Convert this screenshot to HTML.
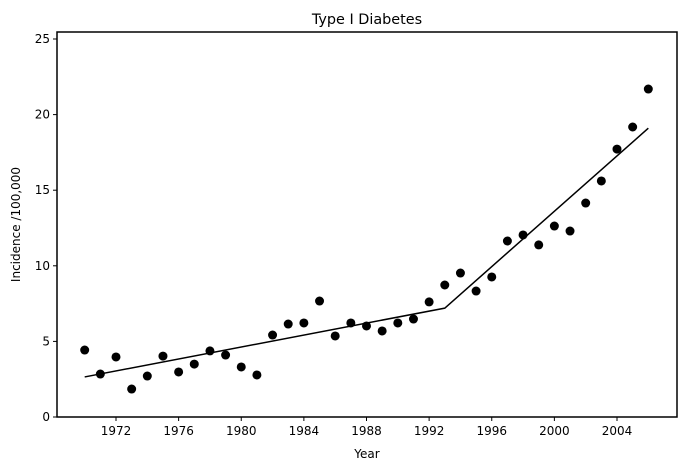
<!DOCTYPE html>
<html><head><meta charset="utf-8"><style>body{margin:0;background:#fff}svg{display:block;font-family:"DejaVu Sans","Liberation Sans",sans-serif}</style></head>
<body>
<svg id="chart" width="686" height="470"></svg>
<script>
const years=[1970,1971,1972,1973,1974,1975,1976,1977,1978,1979,1980,1981,1982,1983,1984,1985,1986,1987,1988,1989,1990,1991,1992,1993,1994,1995,1996,1997,1998,1999,2000,2001,2002,2003,2004,2005,2006];
const incidence=[4.43,2.84,3.97,1.85,2.71,4.03,2.98,3.5,4.37,4.1,3.31,2.78,5.42,6.15,6.22,7.67,5.36,6.22,6.02,5.69,6.22,6.48,7.61,8.73,9.52,8.33,9.26,11.64,12.04,11.38,12.63,12.3,14.15,15.61,17.72,19.18,21.69];
const fitYears=[1970,1993,2006];
const fitValues=[2.65,7.2,19.1];
const xTicks=[1972,1976,1980,1984,1988,1992,1996,2000,2004];
const yTicks=[0,5,10,15,20,25];
const L=57,T=32,R=677,B=417;
const X=v=>116+(v-1972)*(617-116)/32;
const Y=v=>417-v*(417-39)/25;
const svg=document.getElementById('chart');const NS='http://www.w3.org/2000/svg';
function mk(t,a,p){const e=document.createElementNS(NS,t);for(const k in a)e.setAttribute(k,a[k]);(p||svg).appendChild(e);return e;}
const frame=mk('rect',{x:L,y:T,width:R-L,height:B-T,fill:'none',stroke:'#000','stroke-width':1.5});


xTicks.forEach(v=>{const l=mk('line',{x1:X(v),x2:X(v),y1:B,y2:B+4,stroke:'#000'});


const t=mk('text',{x:X(v),y:B+18,'text-anchor':'middle','font-size':12});t.textContent=v;

});
yTicks.forEach(v=>{const l=mk('line',{x1:L-4,x2:L,y1:Y(v),y2:Y(v),stroke:'#000'});


const t=mk('text',{x:L-7,y:Y(v)+4,'text-anchor':'end','font-size':12});t.textContent=v;

});
const pl=mk('polyline',{points:fitYears.map((y,i)=>X(y)+','+Y(fitValues[i])).join(' '),fill:'none',stroke:'#000','stroke-width':1.5});


years.forEach((y,i)=>{const c=mk('circle',{cx:X(y),cy:Y(incidence[i]),r:4.5,fill:'#000'});

});
const title=mk('text',{x:(L+R)/2,y:24,'text-anchor':'middle','font-size':14.4});title.textContent='Type I Diabetes';


const xl=mk('text',{x:(L+R)/2,y:458,'text-anchor':'middle','font-size':12});xl.textContent='Year';


const yl=mk('text',{x:0,y:0,'text-anchor':'middle','font-size':12,transform:'translate(20,'+((T+B)/2)+') rotate(-90)'});yl.textContent='Incidence /100,000';


</script>
</body></html>
